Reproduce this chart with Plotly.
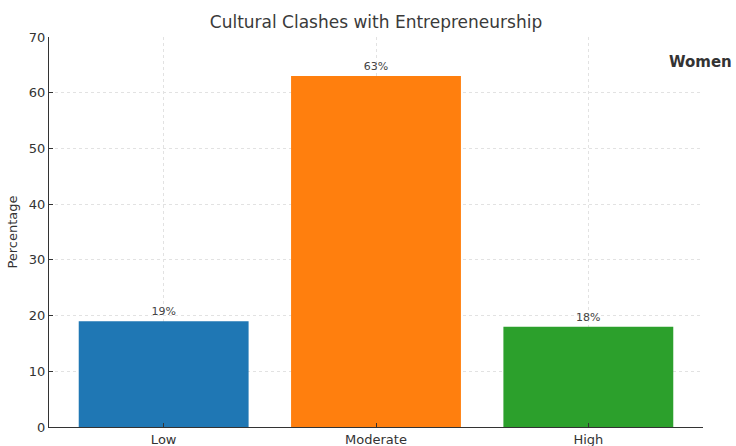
import plotly.graph_objects as go

categories = ["Low", "Moderate", "High"]
values = [19, 63, 18]
colors = ["#1f77b4", "#ff7f0e", "#2ca02c"]
y_ticks = [0, 10, 20, 30, 40, 50, 60, 70]
title = "Cultural Clashes with Entrepreneurship"
group_label = "Women"

fig = go.Figure()
fig.add_trace(go.Bar(
    x=categories, y=values, marker=dict(color=colors, line=dict(width=0)),
    width=0.8,
    text=[f"{v}%" for v in values], textposition="outside",
    textfont=dict(family="DejaVu Sans", size=11, color="#444444"),
    cliponaxis=False, showlegend=False,
))

fig.update_layout(
    width=736, height=446,
    margin=dict(l=49, r=33, t=37, b=19),
    paper_bgcolor="white", plot_bgcolor="white",
    font=dict(family="DejaVu Sans", color="#333333"),
    title=dict(text=title, x=0.5, xref="paper", y=1 - 22 / 446, yref="container",
               xanchor="center", yanchor="middle",
               font=dict(size=17, color="#3a3a3a")),
    bargap=0.2,
)
fig.update_xaxes(
    range=[-0.54, 2.54], showline=True, linecolor="#333333", linewidth=1.2,
    showgrid=True, gridcolor="#e2e2e2", griddash="dot", gridwidth=1,
    ticks="inside", ticklen=4, tickcolor="#333333", automargin=False,
    tickfont=dict(size=13, color="#333333"), layer="above traces",
)
fig.update_yaxes(
    range=[0, 70], tickvals=y_ticks, showline=True, linecolor="#333333",
    linewidth=1.2, showgrid=True, gridcolor="#e2e2e2", griddash="dot",
    gridwidth=1, ticks="inside", ticklen=4, tickcolor="#333333",
    tickfont=dict(size=13, color="#333333"), zeroline=False, automargin=False,
    title=dict(text="Percentage", font=dict(size=13, color="#333333"), standoff=8),
    layer="above traces",
)
fig.add_annotation(
    text=f"<b>{group_label}</b>", xref="paper", yref="paper",
    x=1.0, y=0.935, xanchor="left", yanchor="middle", xshift=-36,
    showarrow=False, font=dict(size=15, color="#333333"),
)
fig.write_html("out.html", config={"displayModeBar": False},
               post_script="document.body.style.margin='0';")
